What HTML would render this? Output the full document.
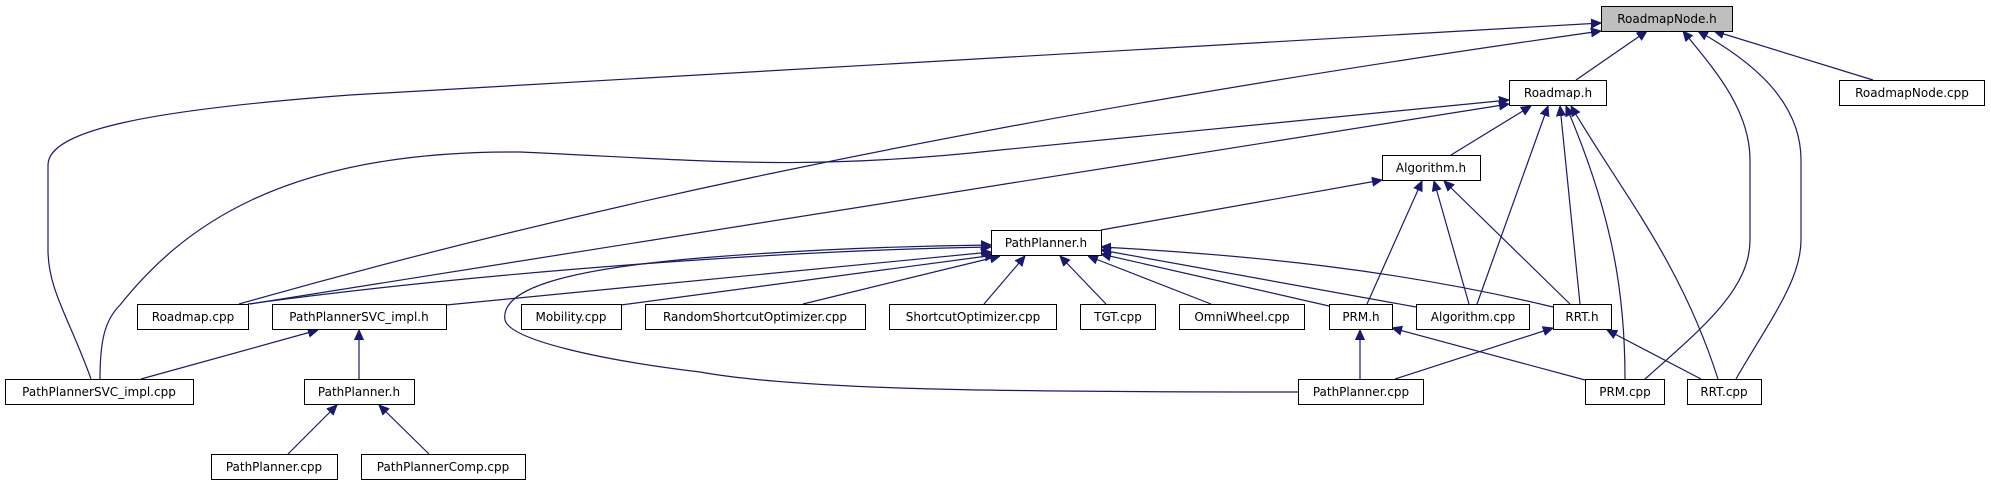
<!DOCTYPE html>
<html><head><meta charset="utf-8"><style>
html,body{margin:0;padding:0;background:#fff;}
svg{display:block;}
text{font-family:"DejaVu Sans","Liberation Sans",sans-serif;font-size:12px;fill:#000;}
.n{fill:#fff;stroke:#000;stroke-width:1;}
.e{fill:none;stroke:#191970;stroke-width:1.2;}
</style></head><body>
<svg width="1991" height="485" viewBox="0 0 1991 485" xmlns="http://www.w3.org/2000/svg">
<defs>
<marker id="a" viewBox="0 0 10 10" refX="10" refY="5" markerWidth="10" markerHeight="10" markerUnits="userSpaceOnUse" orient="auto">
<path d="M0,0.5 L10,5 L0,9.5 z" fill="#191970" stroke="#191970"/>
</marker>
</defs>
<g class="e" marker-end="url(#a)">
<path d="M1576,80 L1647,31"/>
<path d="M1873,80 L1714,31"/>
<path d="M1645,379 C1700,330 1750,290 1750,240 L1750,160 C1750,110 1715,70 1683,31"/>
<path d="M1736,379 C1770,320 1801,280 1801,240 L1801,160 C1801,100 1750,60 1698,31"/>
<path d="M91,379 C70,320 48,290 48,250 L48,165 C48,130 150,110 350,95 L1601,23"/>
<path d="M239,304 C500,230 900,130 1601,31"/>
<path d="M100,379 C100,340 105,320 120,305 C180,230 280,150 520,152 C700,160 800,172 1000,150 L1509,100"/>
<path d="M250,304 L1509,104"/>
<path d="M248,304 C500,270 800,250 991,247"/>
<path d="M446,305 L991,252"/>
<path d="M621,305 L995,255"/>
<path d="M803,304 L1000,256"/>
<path d="M1298,392 C1000,392 800,390 700,372 C600,360 510,340 505,320 C500,290 560,270 700,258 C800,250 900,246 991,245"/>
<path d="M984,304 L1025,256"/>
<path d="M1106,304 L1060,256"/>
<path d="M1211,304 L1088,256"/>
<path d="M1329,306 L1101,254"/>
<path d="M1416,307 L1101,250"/>
<path d="M1553,307 C1400,270 1250,255 1101,247"/>
<path d="M1101,230 L1382,180"/>
<path d="M1451,155 L1531,106"/>
<path d="M1477,304 L1548,106"/>
<path d="M1580,304 L1560,106"/>
<path d="M1625,379 C1625,300 1615,220 1566,106"/>
<path d="M1718,379 C1680,260 1620,190 1571,106"/>
<path d="M1367,304 L1422,181"/>
<path d="M1469,304 L1434,181"/>
<path d="M1570,304 L1444,181"/>
<path d="M1360,379 L1360,330"/>
<path d="M1585,380 L1392,328"/>
<path d="M1395,379 L1553,328"/>
<path d="M1701,379 L1607,330"/>
<path d="M141,379 L318,330"/>
<path d="M359,379 L359,330"/>
<path d="M288,454 L337,405"/>
<path d="M429,454 L379,405"/>
</g>
<g>
<rect x="1601.5" y="6.5" width="131" height="25" fill="#bfbfbf" stroke="#000"/><text x="1667" y="23" text-anchor="middle">RoadmapNode.h</text>
<rect class="n" x="1509.5" y="80.5" width="97" height="25"/><text x="1558" y="97" text-anchor="middle">Roadmap.h</text>
<rect class="n" x="1839.5" y="80.5" width="145" height="25"/><text x="1912" y="97" text-anchor="middle">RoadmapNode.cpp</text>
<rect class="n" x="1382.5" y="155.5" width="98" height="25"/><text x="1431" y="172" text-anchor="middle">Algorithm.h</text>
<rect class="n" x="991.5" y="230.5" width="110" height="25"/><text x="1046" y="247" text-anchor="middle">PathPlanner.h</text>
<rect class="n" x="137.5" y="304.5" width="111" height="25"/><text x="193" y="321" text-anchor="middle">Roadmap.cpp</text>
<rect class="n" x="272.5" y="304.5" width="174" height="25"/><text x="359" y="321" text-anchor="middle">PathPlannerSVC_impl.h</text>
<rect class="n" x="521.5" y="304.5" width="100" height="25"/><text x="571" y="321" text-anchor="middle">Mobility.cpp</text>
<rect class="n" x="645.5" y="304.5" width="220" height="25"/><text x="755" y="321" text-anchor="middle">RandomShortcutOptimizer.cpp</text>
<rect class="n" x="889.5" y="304.5" width="167" height="25"/><text x="973" y="321" text-anchor="middle">ShortcutOptimizer.cpp</text>
<rect class="n" x="1080.5" y="304.5" width="75" height="25"/><text x="1118" y="321" text-anchor="middle">TGT.cpp</text>
<rect class="n" x="1179.5" y="304.5" width="125" height="25"/><text x="1242" y="321" text-anchor="middle">OmniWheel.cpp</text>
<rect class="n" x="1329.5" y="304.5" width="63" height="25"/><text x="1361" y="321" text-anchor="middle">PRM.h</text>
<rect class="n" x="1416.5" y="304.5" width="113" height="25"/><text x="1473" y="321" text-anchor="middle">Algorithm.cpp</text>
<rect class="n" x="1553.5" y="304.5" width="58" height="25"/><text x="1582" y="321" text-anchor="middle">RRT.h</text>
<rect class="n" x="5.5" y="379.5" width="188" height="25"/><text x="99" y="396" text-anchor="middle">PathPlannerSVC_impl.cpp</text>
<rect class="n" x="304.5" y="379.5" width="110" height="25"/><text x="359" y="396" text-anchor="middle">PathPlanner.h</text>
<rect class="n" x="1298.5" y="379.5" width="125" height="25"/><text x="1361" y="396" text-anchor="middle">PathPlanner.cpp</text>
<rect class="n" x="1585.5" y="379.5" width="79" height="25"/><text x="1625" y="396" text-anchor="middle">PRM.cpp</text>
<rect class="n" x="1687.5" y="379.5" width="74" height="25"/><text x="1724" y="396" text-anchor="middle">RRT.cpp</text>
<rect class="n" x="211.5" y="454.5" width="126" height="25"/><text x="274" y="471" text-anchor="middle">PathPlanner.cpp</text>
<rect class="n" x="361.5" y="454.5" width="164" height="25"/><text x="443" y="471" text-anchor="middle">PathPlannerComp.cpp</text>
</g>
</svg>
</body></html>
